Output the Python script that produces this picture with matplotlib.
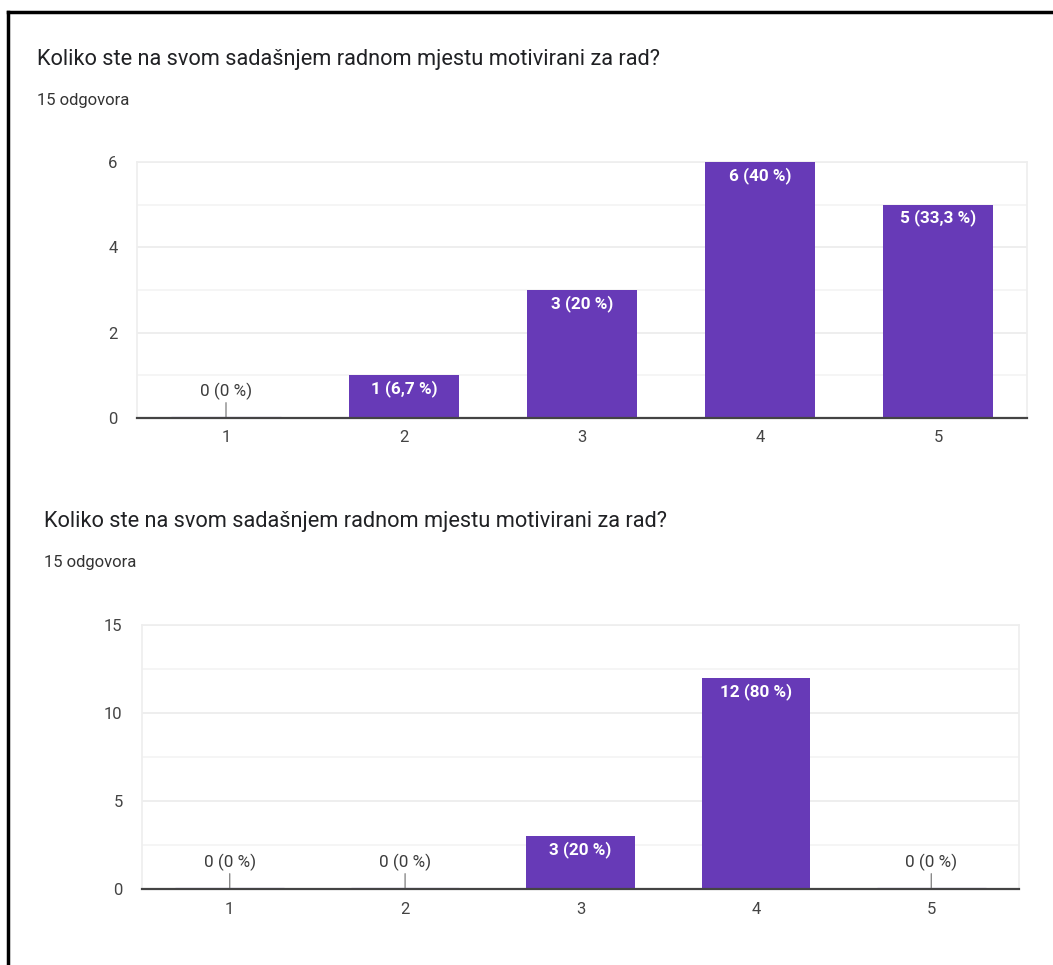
import matplotlib.pyplot as plt
from matplotlib.lines import Line2D

plt.rcParams['font.family'] = ['Roboto', 'DejaVu Sans']

title = "Koliko ste na svom sadašnjem radnom mjestu motivirani za rad?"
subtitle = "15 odgovora"

categories = ["1", "2", "3", "4", "5"]
counts_1 = [0, 1, 3, 6, 5]
labels_1 = ["0 (0 %)", "1 (6,7 %)", "3 (20 %)", "6 (40 %)", "5 (33,3 %)"]
counts_2 = [0, 0, 3, 12, 0]
labels_2 = ["0 (0 %)", "0 (0 %)", "3 (20 %)", "12 (80 %)", "0 (0 %)"]

purple = "#673ab7"
W, H = 1053, 965

fig = plt.figure(figsize=(W / 100, H / 100), dpi=100)

# screenshot border (top and left edges only)
fig.add_artist(Line2D([8 / W, 1052 / W], [1 - 12 / H, 1 - 12 / H], color="black", lw=2.5))
fig.add_artist(Line2D([8 / W, 8 / W], [1 - 12 / H, 0], color="black", lw=2.5))


def panel(rect, counts, labels, ymax, major, minor, tx, ty, sy):
    ax = fig.add_axes(rect)
    x = list(range(1, len(categories) + 1))
    w = 0.62
    ax.bar(x, counts, width=w, color=purple, zorder=3)
    for xi, c, lab in zip(x, counts, labels):
        if c == 0:
            ax.hlines(0, xi - w / 2, xi + w / 2, color="#d1c4e9", lw=2.5, zorder=3)
            ax.annotate(lab, xy=(xi, 0), xytext=(0, 13), textcoords="offset points",
                        ha="center", va="bottom", fontsize=12.3, color="#3c3c3c",
                        arrowprops=dict(arrowstyle="-", color="#8a8a8a", lw=1,
                                        shrinkA=0, shrinkB=0), zorder=4)
        else:
            ax.annotate(lab, xy=(xi, c), xytext=(0, -3.5), textcoords="offset points",
                        ha="center", va="top", fontsize=12.3, color="white",
                        fontweight="bold", zorder=4)
    ax.set_xlim(0.5, len(categories) + 0.5)
    ax.set_ylim(0, ymax)
    ax.set_xticks(x)
    ax.set_xticklabels(categories)
    ax.set_yticks(major)
    ax.set_yticks(minor, minor=True)
    ax.grid(axis="y", which="major", color="#ebebeb", lw=1.2, zorder=0)
    ax.grid(axis="y", which="minor", color="#f4f4f4", lw=1.2, zorder=0)
    ax.tick_params(axis="both", which="both", length=0, labelsize=12, colors="#444444")
    ax.tick_params(axis="y", pad=14)
    ax.tick_params(axis="x", pad=9)
    for s in ["top", "left", "right"]:
        ax.spines[s].set_color("#eeeeee")
        ax.spines[s].set_linewidth(1.2)
    ax.spines["bottom"].set_color("#444444")
    ax.spines["bottom"].set_linewidth(1.6)
    ax.spines["bottom"].set_zorder(5)
    fig.text(tx / W, 1 - ty / H, title, fontsize=15.7, color="#202124", va="center")
    fig.text(tx / W, 1 - sy / H, subtitle, fontsize=12, color="#333333", va="center")
    return ax


panel([137 / W, 1 - 418 / H, 890 / W, 256 / H], counts_1, labels_1, 6,
      [0, 2, 4, 6], [1, 3, 5], 37, 60, 100)
panel([142 / W, 1 - 889 / H, 877 / W, 264 / H], counts_2, labels_2, 15,
      [0, 5, 10, 15], [2.5, 7.5, 12.5], 44, 522, 563)

plt.savefig("out.png", dpi=100)
